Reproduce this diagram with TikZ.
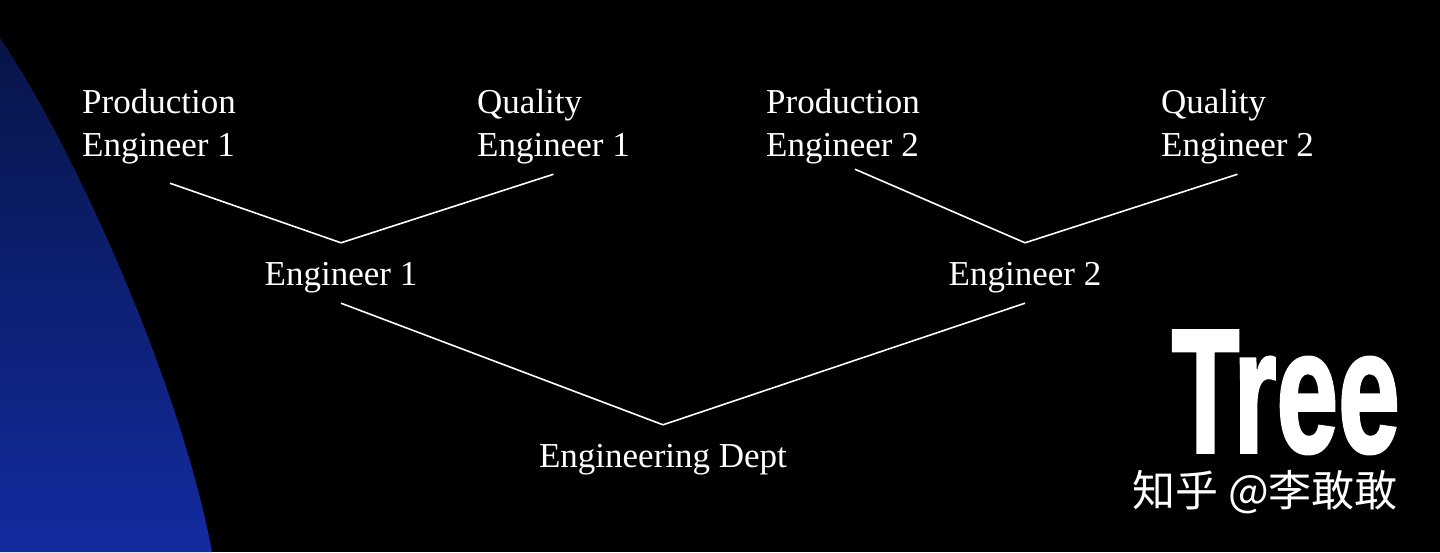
\documentclass[tikz,border=0pt]{standalone}
\usepackage{fontspec}
\setmainfont{Liberation Serif}
\newfontfamily\treefont{Liberation Sans}[BoldFeatures={FakeBold=2}]
\newfontfamily\cjkfont{Noto Sans CJK SC}
\usepackage{tikz}
\definecolor{navytop}{RGB}{8,20,72}
\definecolor{bluebot}{RGB}{18,44,160}
\tikzset{
  lbl/.style={text=white, font=\fontsize{35}{43}\selectfont, inner xsep=0pt, inner ysep=10pt,
    text height=32pt, text depth=8pt, anchor=base},
  lbltwo/.style={text=white, font=\fontsize{35}{43}\selectfont, inner xsep=0pt, inner ysep=10pt,
    align=left, anchor=north west},
  edge/.style={draw=white, line width=1.6pt}
}
\begin{document}
\begin{tikzpicture}[x=1pt, y=-1pt]
    \fill[black] (0,0) rectangle (1440,552);
    \useasboundingbox (0,0) rectangle (1440,552);
    \shade[top color=navytop, bottom color=bluebot]
      (0,38) .. controls (70,140) and (180,380) .. (212,552) -- (0,552) -- cycle;

    \node(pe1)[lbltwo] at (82,79) {Production\\Engineer 1};
    \node(qe1)[lbltwo] at (477,79) {Quality\\Engineer 1};
    \node(pe2)[lbltwo] at (766,79) {Production\\Engineer 2};
    \node(qe2)[lbltwo] at (1161,79) {Quality\\Engineer 2};
    \node(e1)[lbl] at (341,285) {Engineer 1};
    \node(e2)[lbl] at (1025,285) {Engineer 2};
    \node(dept)[lbl] at (663,467) {Engineering Dept};
    \draw[edge] ([xshift=11pt,yshift=-9pt]pe1.south) -- (e1.north);
    \draw[edge] (qe1.south) -- (e1.north);
    \draw[edge] ([xshift=12pt,yshift=5pt]pe2.south) -- (e2.north);
    \draw[edge] (qe2.south) -- (e2.north);
    \draw[edge] (e1.south) -- (dept.north);
    \draw[edge] (e2.south) -- (dept.north);

    \node(title)[text=white, inner sep=0pt, text depth=0pt, anchor=base east] at (1400,452)
      {\scalebox{0.63}[1]{\treefont\bfseries\fontsize{176}{176}\selectfont Tree}};
    \node(mark)[text=white, inner sep=0pt, text height=30pt, anchor=base east] at (1398,506)
      {\cjkfont\fontsize{43}{43}\selectfont 知乎 @李敢敢};
\end{tikzpicture}
\end{document}
